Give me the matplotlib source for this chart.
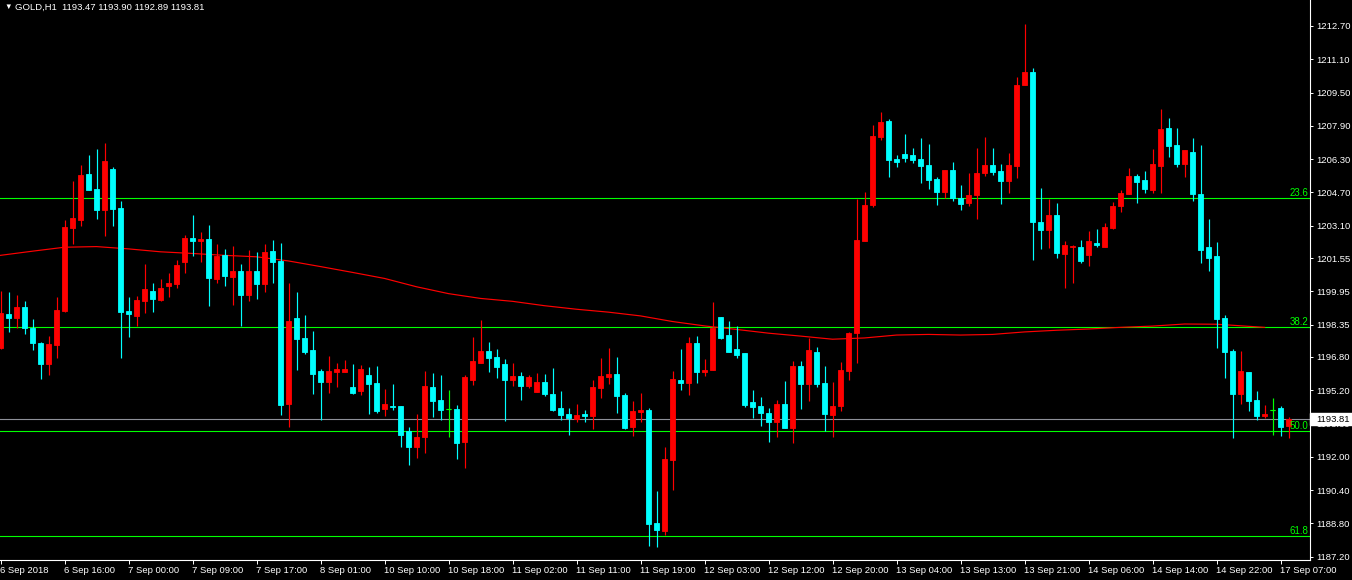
import matplotlib.pyplot as plt
from matplotlib.patches import Rectangle
from matplotlib.transforms import blended_transform_factory

plt.rcParams['font.family'] = ['Liberation Sans', 'DejaVu Sans']

# GOLD H1 candles (bar 0 = 6 Sep 2018 08:00)
opens = [1197.23, 1198.87, 1198.68, 1199.21, 1198.20, 1197.47, 1196.46, 1197.38, 1199.02, 1202.98,
         1203.37, 1205.59, 1204.87, 1203.85, 1205.84, 1203.95, 1199.02, 1198.78, 1199.50, 1199.99,
         1199.55, 1200.23, 1200.28, 1201.34, 1202.50, 1202.35, 1202.45, 1200.52, 1201.68, 1200.66,
         1200.91, 1199.79, 1200.95, 1200.28, 1201.87, 1201.39, 1194.52, 1198.68, 1197.71, 1197.13,
         1196.12, 1195.59, 1196.07, 1196.07, 1195.35, 1195.15, 1195.93, 1195.54, 1194.28, 1194.43,
         1194.43, 1193.22, 1192.45, 1192.93, 1195.35, 1194.72, 1194.28, 1194.28, 1192.69, 1195.68,
         1196.51, 1197.09, 1196.80, 1196.46, 1195.68, 1195.88, 1195.39, 1195.10, 1195.59, 1195.01,
         1194.33, 1194.04, 1193.80, 1194.04, 1193.94, 1195.30, 1195.83, 1195.97, 1194.96, 1193.41,
         1194.14, 1194.23, 1188.82, 1188.43, 1191.86, 1195.68, 1195.54, 1197.47, 1196.07, 1196.17,
         1198.73, 1197.86, 1197.18, 1196.99, 1194.62, 1194.43, 1194.09, 1193.65, 1194.52, 1193.36,
         1196.36, 1195.49, 1197.04, 1195.54, 1193.99, 1194.43, 1196.12, 1197.96, 1202.35, 1204.10,
         1207.38, 1208.15, 1206.32, 1206.56, 1206.51, 1206.32, 1206.03, 1205.35, 1204.72, 1205.79,
         1204.43, 1204.19, 1204.58, 1205.64, 1206.03, 1205.74, 1205.26, 1205.98, 1209.85, 1210.48,
         1203.27, 1202.89, 1203.61, 1201.73, 1202.06, 1202.06, 1201.68, 1202.26, 1202.06, 1202.98,
         1204.05, 1204.63, 1205.50, 1205.30, 1204.82, 1205.98, 1207.82, 1206.99, 1206.08, 1206.66,
         1204.63, 1202.06, 1201.63, 1198.68, 1197.09, 1195.01, 1196.07, 1194.72, 1193.94, 1194.23,
         1194.33, 1193.47]
highs = [1199.99, 1199.94, 1199.79, 1199.50, 1198.63, 1197.52, 1197.81, 1199.70, 1203.37, 1205.26,
         1206.03, 1206.51, 1206.80, 1207.09, 1205.93, 1204.29, 1199.70, 1199.75, 1201.24, 1200.33,
         1200.52, 1200.81, 1201.48, 1202.65, 1203.61, 1202.79, 1203.13, 1202.21, 1201.97, 1202.11,
         1201.24, 1201.92, 1201.82, 1202.21, 1202.40, 1202.26, 1200.37, 1199.94, 1198.83, 1198.05,
         1196.22, 1196.84, 1196.51, 1196.65, 1196.46, 1196.41, 1196.31, 1196.36, 1195.25, 1195.49,
         1194.43, 1193.41, 1194.04, 1196.12, 1196.02, 1195.93, 1195.20, 1194.48, 1195.93, 1197.76,
         1198.58, 1197.52, 1197.18, 1196.70, 1196.51, 1196.07, 1195.93, 1196.02, 1195.97, 1196.26,
         1195.15, 1194.33, 1194.52, 1194.23, 1195.68, 1196.75, 1197.23, 1196.80, 1195.06, 1194.67,
         1195.06, 1194.33, 1190.37, 1192.45, 1196.12, 1197.18, 1197.76, 1197.81, 1196.70, 1199.45,
         1198.73, 1198.54, 1198.29, 1196.99, 1195.20, 1194.86, 1194.33, 1194.72, 1195.64, 1196.60,
         1196.60, 1197.71, 1197.28, 1196.36, 1195.59, 1196.55, 1198.00, 1204.39, 1204.72, 1207.96,
         1208.59, 1208.25, 1206.51, 1207.53, 1206.85, 1207.33, 1207.04, 1205.45, 1205.79, 1206.17,
         1205.06, 1205.64, 1206.85, 1207.38, 1206.85, 1206.08, 1206.61, 1210.23, 1212.80, 1210.67,
         1204.92, 1204.39, 1204.19, 1202.35, 1202.16, 1202.40, 1202.84, 1202.94, 1203.23, 1204.24,
         1204.82, 1205.88, 1205.59, 1205.74, 1206.80, 1208.69, 1208.30, 1207.82, 1206.75, 1207.33,
         1206.99, 1203.42, 1202.31, 1198.83, 1197.18, 1197.09, 1196.07, 1195.15, 1194.48, 1194.81,
         1194.43, 1193.90]
lows = [1197.18, 1198.00, 1198.20, 1197.91, 1197.13, 1195.73, 1195.93, 1196.75, 1198.97, 1202.21,
        1203.08, 1204.82, 1203.42, 1202.60, 1203.08, 1196.75, 1197.76, 1198.29, 1198.92, 1198.97,
        1199.50, 1199.70, 1200.13, 1200.81, 1201.63, 1201.34, 1199.26, 1200.33, 1200.23, 1199.31,
        1198.29, 1199.50, 1199.60, 1199.94, 1200.33, 1193.99, 1193.41, 1196.17, 1196.94, 1195.01,
        1193.75, 1195.06, 1195.35, 1196.07, 1195.01, 1194.96, 1194.04, 1194.09, 1193.94, 1194.23,
        1192.49, 1191.62, 1191.96, 1192.20, 1193.89, 1193.75, 1192.97, 1191.91, 1191.48, 1195.44,
        1196.51, 1196.07, 1195.78, 1193.70, 1195.39, 1194.72, 1195.30, 1195.10, 1194.91, 1194.19,
        1193.75, 1193.07, 1193.65, 1193.65, 1193.32, 1194.81, 1195.49, 1194.09, 1193.32, 1193.02,
        1193.65, 1187.71, 1187.66, 1188.24, 1190.42, 1195.20, 1194.96, 1195.54, 1195.88, 1196.17,
        1197.67, 1197.04, 1196.75, 1194.38, 1193.85, 1193.46, 1192.69, 1192.93, 1193.36, 1192.64,
        1194.28, 1194.67, 1195.35, 1193.22, 1192.93, 1194.19, 1195.68, 1196.51, 1202.35, 1204.00,
        1207.24, 1205.45, 1205.93, 1206.17, 1206.13, 1205.16, 1204.87, 1204.10, 1204.43, 1204.29,
        1203.85, 1204.05, 1203.42, 1205.50, 1205.55, 1204.14, 1204.67, 1205.40, 1209.85, 1201.48,
        1201.97, 1202.02, 1201.53, 1200.13, 1200.33, 1201.29, 1201.15, 1202.06, 1202.06, 1202.94,
        1203.76, 1204.63, 1204.19, 1204.67, 1204.67, 1204.67, 1206.41, 1205.93, 1205.45, 1204.29,
        1201.29, 1200.91, 1197.23, 1195.78, 1192.88, 1194.52, 1194.19, 1193.75, 1193.85, 1193.07,
        1193.02, 1192.89]
closes = [1198.92, 1198.68, 1199.21, 1198.20, 1197.47, 1196.46, 1197.42, 1199.07, 1203.03, 1203.47,
          1205.55, 1204.82, 1203.85, 1206.22, 1203.90, 1198.97, 1198.87, 1199.55, 1200.04, 1199.60,
          1200.13, 1200.37, 1201.20, 1202.50, 1202.35, 1202.45, 1200.57, 1201.63, 1200.71, 1200.91,
          1199.79, 1200.95, 1200.28, 1201.82, 1201.34, 1194.48, 1198.54, 1197.67, 1197.04, 1195.97,
          1195.59, 1196.12, 1196.22, 1196.22, 1195.06, 1196.22, 1195.49, 1194.19, 1194.52, 1194.38,
          1193.07, 1192.45, 1192.97, 1195.39, 1194.67, 1194.23, 1194.28, 1192.64, 1195.83, 1196.60,
          1197.09, 1196.75, 1196.31, 1195.68, 1195.88, 1195.39, 1195.83, 1195.59, 1195.01, 1194.23,
          1193.99, 1193.85, 1193.99, 1193.94, 1195.35, 1195.88, 1195.97, 1194.91, 1193.36, 1194.19,
          1194.23, 1188.77, 1188.48, 1191.91, 1195.73, 1195.54, 1197.47, 1196.07, 1196.17, 1198.20,
          1197.71, 1197.04, 1196.89, 1194.48, 1194.38, 1194.09, 1193.65, 1194.52, 1193.36, 1196.36,
          1195.49, 1197.13, 1195.49, 1194.04, 1194.43, 1196.17, 1197.96, 1202.40, 1204.10, 1207.43,
          1208.11, 1206.27, 1206.17, 1206.37, 1206.27, 1205.98, 1205.30, 1204.72, 1205.79, 1204.43,
          1204.14, 1204.58, 1205.64, 1206.03, 1205.69, 1205.26, 1206.03, 1209.85, 1210.48, 1203.27,
          1202.89, 1203.61, 1201.77, 1202.16, 1202.11, 1201.39, 1202.35, 1202.16, 1203.03, 1204.05,
          1204.67, 1205.50, 1205.21, 1204.87, 1206.08, 1207.77, 1206.95, 1206.08, 1206.75, 1204.63,
          1201.92, 1201.53, 1198.63, 1197.04, 1195.01, 1196.12, 1194.67, 1193.94, 1194.04, 1194.23,
          1193.41, 1193.81]

# moving average (red line), sampled every 4 bars
ma_bars = [0, 4, 8, 12, 16, 20, 24, 28, 32, 36, 40, 44, 48, 52, 56, 60, 64, 68, 72, 76,
           80, 84, 88, 92, 96, 100, 104, 108, 112, 116, 120, 124, 128, 132, 136, 140, 144, 148,
           152, 156, 158]
ma_vals = [1201.68, 1201.88, 1202.07, 1202.10, 1201.99, 1201.85, 1201.77, 1201.68, 1201.61, 1201.41,
           1201.14, 1200.86, 1200.57, 1200.17, 1199.84, 1199.61, 1199.47, 1199.26, 1199.09, 1198.95,
           1198.77, 1198.50, 1198.29, 1198.12, 1197.94, 1197.80, 1197.65, 1197.71, 1197.85, 1197.88,
           1197.85, 1197.88, 1198.00, 1198.08, 1198.14, 1198.22, 1198.28, 1198.38, 1198.37, 1198.27,
           1198.22]

fib_names = ["23.6", "38.2", "50.0", "61.8"]
fib_levels = [1204.42, 1198.24, 1193.22, 1188.19]
last_price = 1193.81

x_tick_bars = list(range(0, 161, 8))
x_tick_labels = ["6 Sep 2018", "6 Sep 16:00", "7 Sep 00:00", "7 Sep 09:00", "7 Sep 17:00",
                 "8 Sep 01:00", "10 Sep 10:00", "10 Sep 18:00", "11 Sep 02:00", "11 Sep 11:00",
                 "11 Sep 19:00", "12 Sep 03:00", "12 Sep 12:00", "12 Sep 20:00", "13 Sep 04:00",
                 "13 Sep 13:00", "13 Sep 21:00", "14 Sep 06:00", "14 Sep 14:00", "14 Sep 22:00",
                 "17 Sep 07:00"]
y_ticks = [1212.70, 1211.10, 1209.50, 1207.90, 1206.30, 1204.70, 1203.10, 1201.55, 1199.95,
           1198.35, 1196.80, 1195.20, 1193.60, 1192.00, 1190.40, 1188.80, 1187.20]

UP = '#ff0000'
DOWN = '#00ffff'
DOJI = '#00ff00'
FIB = '#00ff00'

W, H = 1352, 580
fig = plt.figure(figsize=(W / 100, H / 100), dpi=100, facecolor='black')
ax = fig.add_axes([0, 20 / H, 1310 / W, 560 / H])
ax.set_facecolor('black')

x = list(range(len(opens)))
colors = []
for o, c in zip(opens, closes):
    if c > o:
        colors.append(UP)
    elif c < o:
        colors.append(DOWN)
    else:
        colors.append(DOJI)

# fib levels and bid line behind candles
yt = blended_transform_factory(ax.transAxes, ax.transData)
for lvl, name in zip(fib_levels, fib_names):
    ax.axhline(lvl, color=FIB, lw=0.8, zorder=1)
    ax.text(0.9985, lvl, name, transform=yt, ha='right', va='bottom', color=FIB,
            fontsize=7, zorder=5)
ax.axhline(last_price, color='#8e9099', lw=0.8, zorder=1)

ax.plot(ma_bars, ma_vals, color=UP, lw=0.85, zorder=2)

ax.vlines(x, lows, highs, colors=colors, lw=0.85, zorder=3)
body_bottom = [min(o, c) for o, c in zip(opens, closes)]
body_height = [abs(c - o) for o, c in zip(opens, closes)]
ax.bar(x, body_height, bottom=body_bottom, width=0.55, color=colors, edgecolor=colors,
       linewidth=0.6, zorder=4)
for xi, o, c, col in zip(x, opens, closes, colors):
    if o == c:
        ax.hlines(o, xi - 0.32, xi + 0.32, colors=col, lw=0.85, zorder=4)

ax.set_xlim(-0.0625, 163.6875)
ax.set_ylim(1187.041, 1213.949)

for s in ['top', 'left']:
    ax.spines[s].set_visible(False)
for s in ['right', 'bottom']:
    ax.spines[s].set_color('white')
    ax.spines[s].set_linewidth(0.8)

ax.yaxis.tick_right()
ax.set_yticks(y_ticks)
ax.set_yticklabels([f"{v:.2f}" for v in y_ticks])
ax.tick_params(axis='y', colors='white', length=2.2, width=0.7, pad=2, labelsize=6.8)

ax.set_xticks(x_tick_bars)
ax.set_xticklabels(x_tick_labels)
ax.tick_params(axis='x', colors='white', length=3, width=0.7, pad=1.5, labelsize=6.8)
for lab in ax.get_xticklabels():
    lab.set_horizontalalignment('left')

# current price box on the price scale, covering the tick label under it
box_h = 0.6
ax.add_patch(Rectangle((1.0, last_price - box_h / 2), W / 1310 - 1.0, box_h, transform=yt,
                       facecolor='white', edgecolor='white', clip_on=False, zorder=10))
ax.text(1316 / 1310, last_price, f"{last_price:.2f}", transform=yt, ha='left', va='center',
        color='black', fontsize=6.8, clip_on=False, zorder=11)

# header
fig.text(4 / W, 1 - 7 / H, "\u25bc", color='white', fontsize=5.5, va='center', ha='left')
fig.text(15 / W, 1 - 7 / H, "GOLD,H1  1193.47 1193.90 1192.89 1193.81", color='white',
         fontsize=6.8, va='center', ha='left')

fig.savefig('out.png', dpi=100, facecolor='black')
